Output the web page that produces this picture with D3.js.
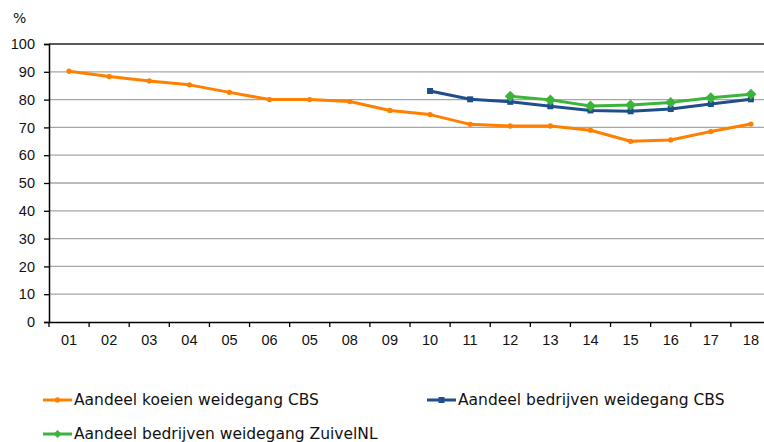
<!DOCTYPE html>
<html>
<head>
<meta charset="utf-8">
<script src="https://cdn.jsdelivr.net/npm/d3@7"></script>
<style>
  body { margin: 0; background: #fff; }
  svg { display: block; font-family: 'DejaVu Sans', Verdana, sans-serif; }
</style>
</head>
<body>
<svg width="764" height="442"></svg>
<script>
// Data.
const years = ['2001', '2002', '2003', '2004', '2005', '2006', '2007', '2008', '2009',
  '2010', '2011', '2012', '2013', '2014', '2015', '2016', '2017', '2018'];
// Tick labels as printed (the 7th says 05 in the original).
const tickLabels = ['01', '02', '03', '04', '05', '06', '05', '08', '09',
  '10', '11', '12', '13', '14', '15', '16', '17', '18'];
const koeienCBS = [90.2, 88.3, 86.7, 85.3, 82.6, 80.0, 80.0, 79.3, 76.1,
  74.6, 71.1, 70.5, 70.5, 69.0, 65.0, 65.5, 68.5, 71.2];
const bedrijvenCBS = [null, null, null, null, null, null, null, null, null,
  83.1, 80.1, 79.2, 77.6, 76.1, 75.8, 76.6, 78.4, 80.1];
const bedrijvenZuivel = [null, null, null, null, null, null, null, null, null,
  null, null, 81.2, 79.9, 77.7, 78.1, 79.0, 80.7, 81.9];
const yTicks = [0, 10, 20, 30, 40, 50, 60, 70, 80, 90, 100];

// 1. Dimensions.
const plotLeft = 49;
const plotTop = 44;
const plotBottom = 322;
const bandW = 40.11;
const svg = d3.select('svg');

// 2. Scales.
const xScale = d3.scaleBand()
  .domain(years)
  .range([plotLeft, plotLeft + bandW * years.length])
  .paddingInner(0)
  .paddingOuter(0);

const yScale = d3.scaleLinear()
  .domain([0, 100])
  .range([plotBottom, plotTop]);

const cx = i => xScale(years[i]) + xScale.bandwidth() / 2;

// 3. Gridlines.
svg.append('g')
  .selectAll('line')
  .data(yTicks.filter(d => d > 0))
  .enter()
  .append('line')
  .attr('x1', plotLeft)
  .attr('x2', xScale.range()[1])
  .attr('y1', d => yScale(d))
  .attr('y2', d => yScale(d))
  .style('stroke', d => d === 100 ? '#222' : '#a6a6a6')
  .style('stroke-width', d => d === 100 ? 1.5 : 1.3);

// Y axis.
const yAxis = svg.append('g')
  .attr('transform', `translate(${plotLeft},0)`)
  .call(d3.axisLeft(yScale).tickValues(yTicks).tickSize(5).tickPadding(8).tickFormat(d3.format('d')));
yAxis.select('.domain').attr('stroke', '#000').attr('stroke-width', 1.5);
yAxis.selectAll('.tick line').attr('stroke', '#000').attr('stroke-width', 1.3);
yAxis.selectAll('text').style('font-size', '14.5px').style('fill', '#111')
  .attr('x', -14);

// X axis.
const xAxis = svg.append('g')
  .attr('transform', `translate(0,${plotBottom})`)
  .call(d3.axisBottom(xScale).tickSize(0).tickPadding(13).tickFormat((d, i) => tickLabels[i]));
xAxis.select('.domain').attr('stroke', '#000').attr('stroke-width', 1.5);
xAxis.selectAll('text').style('font-size', '14.5px').style('fill', '#111');

// Band boundary ticks.
xAxis.append('g')
  .selectAll('line')
  .data(years)
  .enter()
  .append('line')
  .attr('x1', d => xScale(d))
  .attr('x2', d => xScale(d))
  .attr('y1', 0)
  .attr('y2', 5)
  .style('stroke', '#000')
  .style('stroke-width', 1.3);

// Unit label.
svg.append('text')
  .attr('x', 13)
  .attr('y', 23)
  .style('font-size', '14px')
  .style('fill', '#111')
  .text('%');

// 4. Series.
const series = [
  { name: 'Aandeel koeien weidegang CBS', values: koeienCBS, color: '#ff8000', marker: 'circle' },
  { name: 'Aandeel bedrijven weidegang CBS', values: bedrijvenCBS, color: '#1f4e8c', marker: 'square' },
  { name: 'Aandeel bedrijven weidegang ZuivelNL', values: bedrijvenZuivel, color: '#3cb43c', marker: 'diamond' }
];

const line = d3.line()
  .defined(d => d !== null)
  .x((d, i) => cx(i))
  .y(d => yScale(d));

const markerPath = {
  circle: d3.symbol(d3.symbolCircle, 22)(),
  square: d3.symbol(d3.symbolSquare, 36)(),
  diamond: 'M0,-5.5L5.5,0L0,5.5L-5.5,0Z'
};

series.forEach(s => {
  svg.append('path')
    .datum(s.values)
    .attr('d', line)
    .style('fill', 'none')
    .style('stroke', s.color)
    .style('stroke-width', 3)
    .style('stroke-linejoin', 'round');

  svg.append('g')
    .selectAll('path')
    .data(s.values.map((v, i) => ({ v, i })).filter(d => d.v !== null))
    .enter()
    .append('path')
    .attr('d', markerPath[s.marker])
    .attr('transform', d => `translate(${cx(d.i)},${yScale(d.v)})`)
    .style('fill', s.color);
});

// 5. Legend.
const legendPos = [[43, 400], [427, 400], [43, 434]];
const legend = svg.append('g')
  .selectAll('g')
  .data(series)
  .enter()
  .append('g')
  .attr('transform', (d, i) => `translate(${legendPos[i][0]},${legendPos[i][1]})`);

legend.append('line')
  .attr('x1', 0)
  .attr('x2', 29)
  .style('stroke', d => d.color)
  .style('stroke-width', 3);

legend.append('path')
  .attr('d', d => d.marker === 'diamond' ? 'M0,-4L4,0L0,4L-4,0Z' : markerPath[d.marker])
  .attr('transform', 'translate(14.5,0)')
  .style('fill', d => d.color);

legend.append('text')
  .attr('x', 31)
  .attr('dy', '0.35em')
  .style('font-size', '15.5px')
  .style('fill', '#111')
  .text(d => d.name);
</script>
</body>
</html>
